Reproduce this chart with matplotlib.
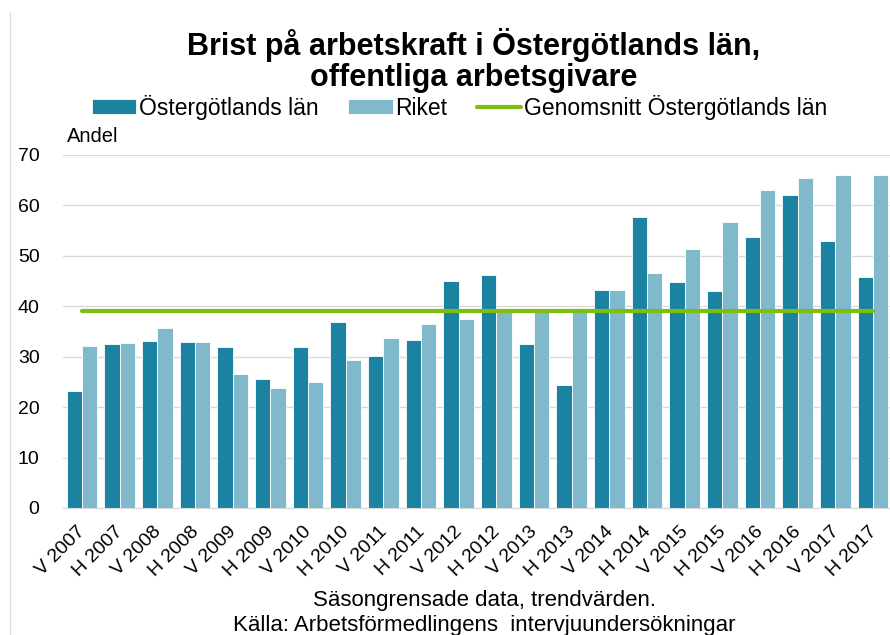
import matplotlib.pyplot as plt
import matplotlib.transforms as mtransforms
from matplotlib.lines import Line2D
import numpy as np

plt.rcParams['font.family'] = ['Liberation Sans', 'DejaVu Sans']

# data
periods = ["V 2007", "H 2007", "V 2008", "H 2008", "V 2009", "H 2009",
           "V 2010", "H 2010", "V 2011", "H 2011", "V 2012", "H 2012",
           "V 2013", "H 2013", "V 2014", "H 2014", "V 2015", "H 2015",
           "V 2016", "H 2016", "V 2017", "H 2017"]
ostergotland = [23.1, 32.5, 33.2, 32.9, 31.9, 25.6, 31.9, 36.9, 30.2, 33.3, 45.1,
                46.1, 32.5, 24.3, 43.2, 57.6, 44.9, 43.0, 53.7, 62.0, 52.9, 45.8]
riket = [32.1, 32.7, 35.7, 32.9, 26.6, 23.7, 24.9, 29.3, 33.8, 36.5, 37.5,
         39.0, 39.4, 39.7, 43.2, 46.6, 51.3, 56.7, 63.1, 65.5, 66.0, 66.0]
genomsnitt = 39.1

dark = "#1B83A1"
light = "#80B9CB"
green = "#7DBE0E"

fig = plt.figure(figsize=(8.9, 6.35), dpi=100)
ax = fig.add_axes([0.071, 0.2, 0.931, 0.556])

x = np.arange(len(periods))
w = 0.41
b1 = ax.bar(x - w/2, ostergotland, w, color=dark, edgecolor="white", linewidth=0.6,
            label="Östergötlands län", zorder=2)
b2 = ax.bar(x + w/2, riket, w, color=light, edgecolor="white", linewidth=0.6,
            label="Riket", zorder=2)
l1, = ax.plot(x, [genomsnitt] * len(x), color=green, linewidth=3,
              label="Genomsnitt Östergötlands län", zorder=3, solid_capstyle="round")

ax.set_xlim(-0.5, len(periods) - 0.5)
ax.set_ylim(0, 70)
ax.set_yticks(range(0, 71, 10))
ax.yaxis.grid(True, color="#D9D9D9", linewidth=1)
ax.set_axisbelow(True)
for s in ["left", "right", "top"]:
    ax.spines[s].set_visible(False)
ax.spines["bottom"].set_color("#D9D9D9")
ax.tick_params(axis="y", length=0, labelsize=14, pad=17)
ax.tick_params(axis="x", length=0, labelsize=14, pad=11)
ax.set_xticks(x)
ax.set_xticklabels(periods, rotation=45, ha="right", rotation_mode="anchor")
shift = mtransforms.ScaledTranslation(-0.05, 0, fig.dpi_scale_trans)
for lab in ax.get_xticklabels():
    lab.set_transform(lab.get_transform() + shift)

ax.text(0.005, 1.025, "Andel", transform=ax.transAxes, fontsize=14.5, va="bottom")

fig.text(0.532, 0.905, "Brist på arbetskraft i Östergötlands län,\noffentliga arbetsgivare",
         ha="center", va="center", fontsize=22, fontweight="bold", linespacing=1.05)

fig.legend(handles=[b1, b2, l1], loc="center", bbox_to_anchor=(0.516, 0.831), ncol=3,
           frameon=False, fontsize=16.5, handlelength=1.95, handletextpad=0.1,
           columnspacing=1.3, handleheight=0.6, borderaxespad=0)

fig.text(0.544, 0.055, "Säsongrensade data, trendvärden.", ha="center", va="center",
         fontsize=16)
fig.text(0.544, 0.015, "Källa: Arbetsförmedlingens  intervjuundersökningar",
         ha="center", va="center", fontsize=16)

# thin frame line at the left edge of the chart area
fig.add_artist(Line2D([0.011, 0.011], [0.0, 0.98], transform=fig.transFigure,
                      color="#D9D9D9", linewidth=1))

fig.savefig("out.png", dpi=100)
